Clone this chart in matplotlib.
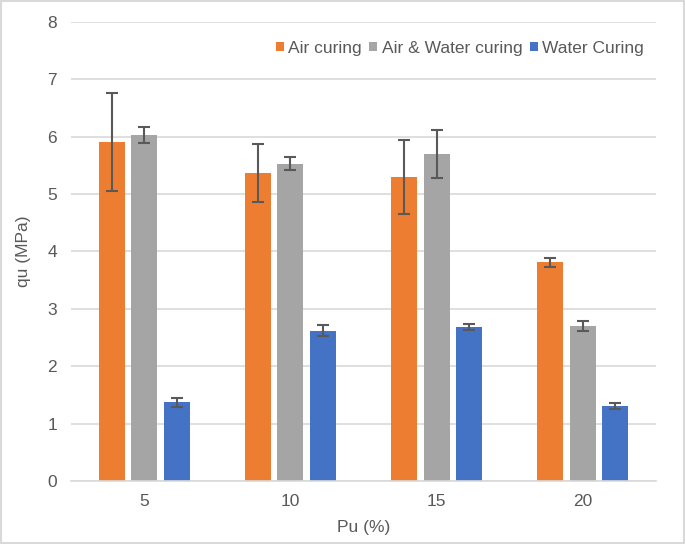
import numpy as np
import matplotlib
matplotlib.use('Agg')
from matplotlib import pyplot as plt
from matplotlib.patches import Rectangle

plt.rcParams['font.family'] = ['Liberation Sans', 'DejaVu Sans']

categories = ['5', '10', '15', '20']
series = ['Air curing', 'Air & Water curing', 'Water Curing']
air = [5.91, 5.37, 5.30, 3.81]
air_err = [0.86, 0.51, 0.645, 0.08]
air_water = [6.03, 5.53, 5.70, 2.70]
air_water_err = [0.14, 0.11, 0.425, 0.085]
water = [1.37, 2.62, 2.69, 1.31]
water_err = [0.08, 0.10, 0.05, 0.055]

colors = ['#ED7D31', '#A5A5A5', '#4472C4']
text_col = '#595959'

fig = plt.figure(figsize=(6.85, 5.44), dpi=100)
ax = fig.add_axes([0.1036, 0.1158, 0.8541, 0.8438])

x = np.arange(len(categories))
step = 0.222
width = 0.178
for i, (vals, errs) in enumerate([(air, air_err), (air_water, air_water_err), (water, water_err)]):
    ax.bar(x + (i - 1) * step, vals, width, color=colors[i], label=series[i], zorder=2,
           yerr=errs, error_kw=dict(ecolor='#595959', elinewidth=1.5, capsize=4, capthick=1.5, zorder=3))

ax.set_xlim(-0.5, 3.5)
ax.set_ylim(0, 8)
ax.set_xticks(x)
ax.set_xticklabels(categories)
ax.set_yticks(range(0, 9))
ax.tick_params(length=0, labelsize=12.5, colors=text_col)
ax.tick_params(axis='x', pad=9)
ax.tick_params(axis='y', pad=10)
ax.yaxis.grid(True, color='#D9D9D9', lw=1.2, zorder=0)
ax.set_axisbelow(True)
for s in ['top', 'right', 'left']:
    ax.spines[s].set_visible(False)
ax.spines['bottom'].set_color('#D9D9D9')
ax.spines['bottom'].set_linewidth(1.2)

ax.set_xlabel('Pu (%)', fontsize=12.5, color=text_col, labelpad=8)
ax.set_ylabel('qu (MPa)', fontsize=12.5, color=text_col, labelpad=12)

leg = ax.legend(loc='upper right', ncol=3, frameon=False, fontsize=12.5, handlelength=0.45,
                handleheight=0.45, handletextpad=0.25, columnspacing=0.45,
                borderaxespad=0.3, bbox_to_anchor=(1.0, 0.985), labelcolor=text_col)

fig.patches.append(Rectangle((0.002, 0.002), 0.996, 0.996, transform=fig.transFigure,
                             fill=False, edgecolor='#D9D9D9', lw=1.5))

fig.savefig('out.png', dpi=100)
